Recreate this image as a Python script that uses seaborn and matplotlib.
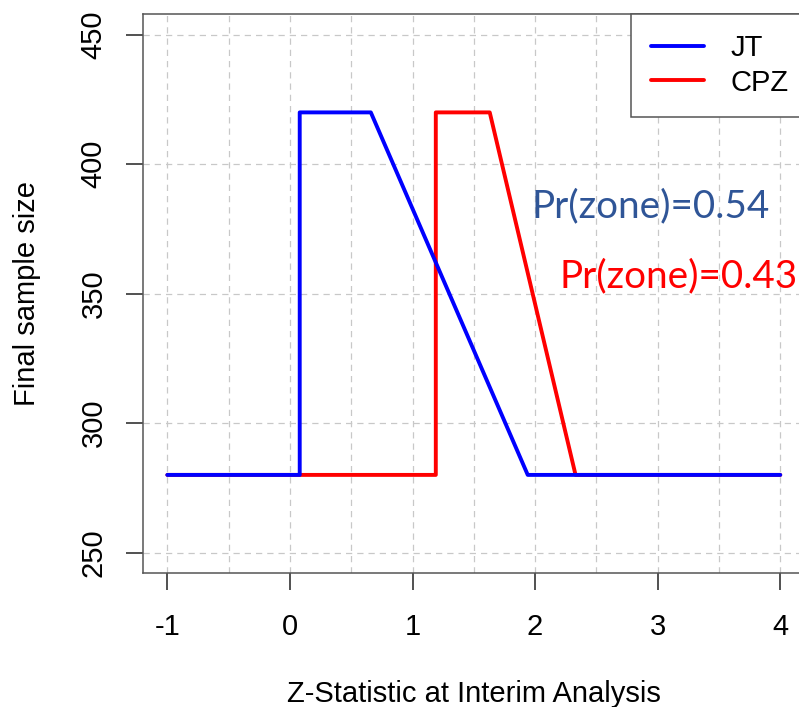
import matplotlib
matplotlib.use("Agg")
import matplotlib.pyplot as plt
import seaborn as sns
import pandas as pd
from matplotlib.lines import Line2D
from matplotlib.ticker import MultipleLocator

# ---- data ----
jt_z = [-1.0, 0.08, 0.08, 0.66, 1.94, 4.0]
jt_n = [280, 280, 420, 420, 280, 280]
cpz_z = [-1.0, 1.19, 1.19, 1.63, 2.33, 4.0]
cpz_n = [280, 280, 420, 420, 280, 280]
designs = ["JT", "CPZ"]
line_colors = {"JT": "#0000FF", "CPZ": "#FF0000"}
x_ticks = [-1, 0, 1, 2, 3, 4]
y_ticks = [250, 300, 350, 400, 450]
annot_labels = ["Pr(zone)=0.54", "Pr(zone)=0.43"]
annot_z = [1.968, 2.200]
annot_n = [379.5, 352.4]
annot_colors = ["#2F5597", "#FF0000"]
x_label = "Z-Statistic at Interim Analysis"
y_label = "Final sample size"

sns.set_style("white")
plt.rcParams['font.family'] = ['Liberation Sans', 'DejaVu Sans']
plt.rcParams['text.color'] = 'black'
plt.rcParams['axes.labelcolor'] = 'black'

df = pd.DataFrame({
    "z": cpz_z + jt_z,
    "n": cpz_n + jt_n,
    "design": ["CPZ"] * len(cpz_z) + ["JT"] * len(jt_z),
})

W, H = 799, 707
fig = plt.figure(figsize=(W / 100, H / 100), dpi=100)
ax_left, ax_right, ax_top, ax_bottom = 142.8, 804.8, 14.0, 573.3
ax = fig.add_axes([ax_left / W, 1 - ax_bottom / H, (ax_right - ax_left) / W, (ax_bottom - ax_top) / H])

sns.lineplot(data=df, x="z", y="n", hue="design", hue_order=["CPZ", "JT"],
             palette=line_colors, sort=False, estimator=None, lw=2.8,
             ax=ax, legend=False, zorder=3)

ax.set_xlim(-1.2, 4.2)
ax.set_ylim(242, 458)
ax.set_xticks(x_ticks)
ax.set_xticklabels([str(t) for t in x_ticks])
ax.set_yticks(y_ticks)
ax.set_yticklabels([str(t) for t in y_ticks])
ax.xaxis.set_minor_locator(MultipleLocator(0.5))

grid_kw = dict(color="#C8C8C8", linestyle=(0, (5, 4)), linewidth=0.9)
ax.grid(True, which="major", axis="both", **grid_kw)
ax.grid(True, which="minor", axis="x", **grid_kw)
ax.set_axisbelow(True)

for s in ax.spines.values():
    s.set_color("#555555")
    s.set_linewidth(1.1)
    s.set_visible(True)

fs = 21
ax.tick_params(axis="both", which="major", direction="out", length=12.2, width=1.1,
               color="#222222", labelsize=fs, labelcolor="black",
               bottom=True, left=True, top=False, right=False)
ax.tick_params(axis="x", which="major", pad=16.3)
ax.tick_params(axis="y", which="major", pad=13.2)
ax.tick_params(axis="both", which="minor", length=0, bottom=False, left=False)
plt.setp(ax.get_yticklabels(), rotation=90, va="center")

ax.set_xlabel(x_label, fontsize=fs, color="black")
ax.set_ylabel(y_label, fontsize=fs, color="black")
ax.xaxis.set_label_coords(0.5, (ax_bottom - 680.0) / (ax_bottom - ax_top))
ax.yaxis.set_label_coords((41.0 - ax_left) / (ax_right - ax_left), 0.5)

for lab, zx, ny, c in zip(annot_labels, annot_z, annot_n, annot_colors):
    ax.text(zx, ny, lab, color=c, fontsize=27.8, family=["Lato", "DejaVu Sans"],
            ha="left", va="baseline", zorder=4)

handles = [Line2D([], [], color=line_colors[d], lw=2.8) for d in designs]
leg = ax.legend(handles, designs, loc="upper left",
                bbox_to_anchor=((631.0 - ax_left) / (ax_right - ax_left), 1.0),
                frameon=True, fancybox=False, borderaxespad=0, framealpha=1,
                handlelength=1.80, handletextpad=0.90, borderpad=0.70,
                labelspacing=0.21, fontsize=fs, edgecolor="#555555")
leg.get_frame().set_linewidth(1.1)
for t in leg.get_texts():
    t.set_color("black")
leg.set_zorder(5)

fig.savefig("out.png", dpi=100, facecolor="white")
